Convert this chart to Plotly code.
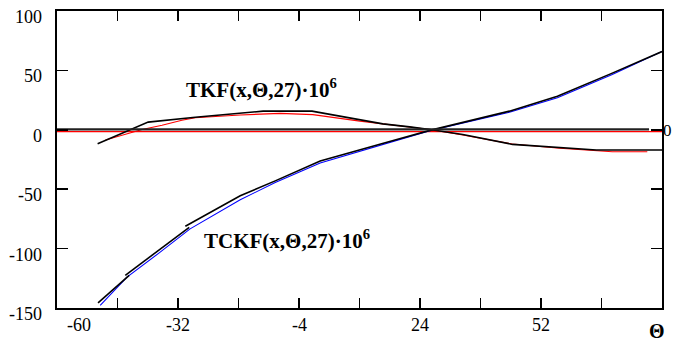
import plotly.graph_objects as go

# ---- data ----
x_tick_vals = [-60, -46, -32, -18, -4, 10, 24, 38, 52, 66, 80]
x_label_vals = [-60, -32, -4, 24, 52]
x_label_text = ["-60", "-32", "-4", "24", "52"]
y_tick_vals = [-150, -100, -50, 0, 50, 100]
y_tick_text = ["-150", "-100", "-50", "0", "50", "100"]

tkf_black_x = [-50.6, -38.9, -28.0, -17.6, -12.3, -1.0, 10.1, 15.4, 21.6, 26.3, 33.9, 45.4, 64.8, 80.0]
tkf_black_y = [-11.7, 6.5, 10.6, 13.7, 15.7, 15.7, 8.1, 5.0, 2.5, 0.3, -3.9, -12.3, -17.0, -17.0]

tkf_red_x = [-48.8, -40.3, -35.7, -31.1, -28.0, -17.6, -8.4, -0.8, 10.1, 21.6, 26.3, 33.9, 45.4, 56.3, 68.5, 76.6]
tkf_red_y = [-8.6, 0.3, 3.9, 8.1, 10.2, 12.5, 13.8, 12.8, 7.3, 2.2, 0.2, -4.4, -12.0, -15.5, -18.5, -18.5]

tckf_black_x = [-50.5, -43.3, None, -44.2, -29.4, None, -30.3, -17.6, -9.5, 0.9, 14.7, 26.3, 44.7, 55.8, 68.5, 80.0]
tckf_black_y = [-145.7, -122.5, None, -122.5, -82.1, None, -81.2, -55.5, -43.0, -26.2, -12.2, -0.5, 15.7, 28.2, 47.7, 65.9]

tckf_blue_x = [-50.0, -43.8, -36.5, -29.2, -17.6, -9.5, 0.9, 14.7, 26.3, 44.7, 55.8, 68.5, 80.0]
tckf_blue_y = [-147.7, -124.0, -104.0, -83.4, -58.9, -44.4, -27.9, -13.2, -0.7, 14.8, 27.0, 46.6, 65.9]

marker_black_x = [-60, 77]
marker_black_y = [0.3, 0.3]
marker_red_x = [-60, 80]
marker_red_y = [-1.5, -1.5]

SERIF = "Liberation Serif, Times New Roman, serif"

fig = go.Figure()
fig.add_trace(go.Scatter(x=marker_red_x, y=marker_red_y, mode="lines",
                         line=dict(color="#ff0000", width=1.2), showlegend=False))
fig.add_trace(go.Scatter(x=tckf_blue_x, y=tckf_blue_y, mode="lines",
                         line=dict(color="#0000ff", width=1.1), showlegend=False))
fig.add_trace(go.Scatter(x=tkf_red_x, y=tkf_red_y, mode="lines",
                         line=dict(color="#ff0000", width=1.1), showlegend=False))
fig.add_trace(go.Scatter(x=tkf_black_x, y=tkf_black_y, mode="lines",
                         line=dict(color="#000000", width=1.6), showlegend=False))
fig.add_trace(go.Scatter(x=tckf_black_x, y=tckf_black_y, mode="lines", connectgaps=False,
                         line=dict(color="#000000", width=1.6), showlegend=False))
fig.add_trace(go.Scatter(x=marker_black_x, y=marker_black_y, mode="lines",
                         line=dict(color="#222222", width=2.2), showlegend=False))

annotations = []
for v, t in zip(x_label_vals, x_label_text):
    annotations.append(dict(x=v, y=0, xref="x", yref="paper", text=t, showarrow=False,
                            xanchor="center", yanchor="middle", yshift=-17,
                            xshift=22 if v == -60 else 0,
                            font=dict(family=SERIF, size=18, color="black")))
for v, t in zip(y_tick_vals, y_tick_text):
    annotations.append(dict(x=0, y=v, xref="paper", yref="y", text=t, showarrow=False,
                            xanchor="right", yanchor="middle", xshift=-13, yshift=-6,
                            font=dict(family=SERIF, size=18, color="black")))
annotations.append(dict(x=80, y=0, xref="x", yref="paper", text="<b>Θ</b>", showarrow=False,
                        xanchor="center", yanchor="middle", yshift=-23, xshift=-5,
                        font=dict(family=SERIF, size=20, color="black")))
annotations.append(dict(x=80, y=-1, xref="x", yref="y", text="0", showarrow=False,
                        xanchor="left", yanchor="middle", xshift=0,
                        borderpad=0,
                        font=dict(family=SERIF, size=17, color="black")))
annotations.append(dict(x=-30.6, y=35, xref="x", yref="y",
                        text="<b>TKF(x,Θ,27)·10<sup>6</sup></b>", showarrow=False,
                        xanchor="left", yanchor="middle",
                        font=dict(family=SERIF, size=21, color="black")))
annotations.append(dict(x=-26.4, y=-92, xref="x", yref="y",
                        text="<b>TCKF(x,Θ,27)·10<sup>6</sup></b>", showarrow=False,
                        xanchor="left", yanchor="middle",
                        font=dict(family=SERIF, size=21, color="black")))

fig.update_layout(
    width=673, height=346,
    margin=dict(l=57, r=10, t=9, b=38),
    paper_bgcolor="white", plot_bgcolor="white",
    annotations=annotations,
    showlegend=False,
)
fig.update_xaxes(range=[-60, 80], tickvals=x_tick_vals, showticklabels=False,
                 ticks="inside", ticklen=10, tickwidth=1.5, tickcolor="black",
                 showline=True, linecolor="black", linewidth=1.8, mirror="ticks",
                 showgrid=False, zeroline=False)
fig.update_yaxes(range=[-150, 100], tickvals=y_tick_vals, showticklabels=False,
                 ticks="inside", ticklen=11, tickwidth=1.5, tickcolor="black",
                 showline=True, linecolor="black", linewidth=1.8, mirror="ticks",
                 showgrid=False, zeroline=False)

# remove the default 8px page margin so the figure fills the window exactly
fig.write_html("out.html",
               config={"displayModeBar": False, "staticPlot": True},
               post_script="document.body.style.margin='0';")
